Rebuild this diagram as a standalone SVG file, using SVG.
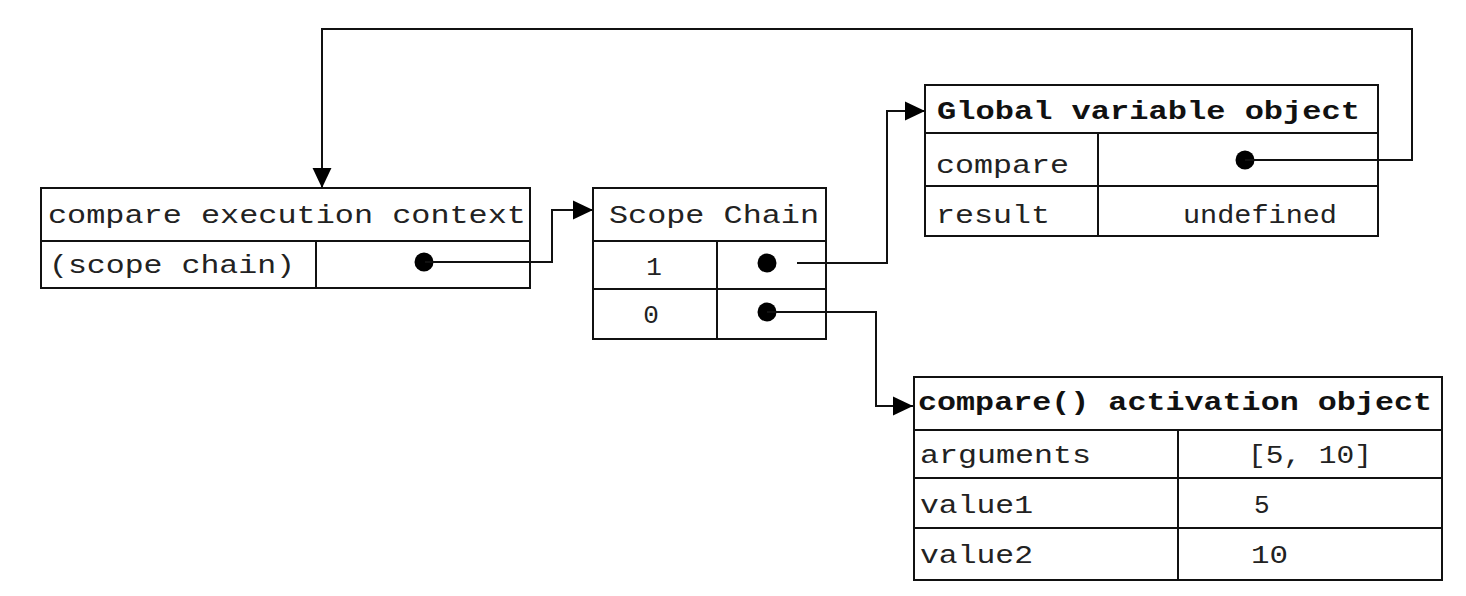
<svg xmlns="http://www.w3.org/2000/svg" width="1466" height="596" viewBox="0 0 1466 596">
<style>
.box{fill:none;stroke:#111;stroke-width:2}
.ln{fill:none;stroke:#111;stroke-width:2}
.t{font-family:"Liberation Mono","Courier New",monospace;font-size:26px;fill:#222}
.b{font-weight:bold;fill:#111}
.dot{fill:#000}
.conn{fill:none;stroke:#111;stroke-width:2}
</style>
<defs>
<marker id="arr" markerUnits="userSpaceOnUse" markerWidth="20" markerHeight="20" viewBox="0 0 18 18" refX="18" refY="9" orient="auto">
<path d="M0,0.5 L18,9 L0,17.5 Z" fill="#000"/>
</marker>
</defs>
<rect width="1466" height="596" fill="#fff"/>

<g id="exec-context">
<rect class="box" x="41" y="188" width="489" height="100"/>
<path class="ln" d="M41,241 H530 M316,241 V288"/>
<text class="t" x="48" y="223" textLength="478" lengthAdjust="spacingAndGlyphs">compare execution context</text>
<text class="t" x="49" y="273" textLength="246" lengthAdjust="spacingAndGlyphs">(scope chain)</text>
<circle class="dot" cx="424" cy="262" r="9.5"/>
</g>

<g id="scope-chain">
<rect class="box" x="593" y="188" width="233" height="151"/>
<path class="ln" d="M593,241 H826 M593,289 H826 M717,241 V339"/>
<text class="t" x="609" y="223" textLength="210" lengthAdjust="spacingAndGlyphs">Scope Chain</text>
<text class="t" x="654" y="275" text-anchor="middle">1</text>
<text class="t" x="651" y="323" text-anchor="middle">0</text>
<circle class="dot" cx="767" cy="263" r="9.5"/>
<circle class="dot" cx="767" cy="312" r="9.5"/>
</g>

<g id="global-object">
<rect class="box" x="925" y="85" width="453" height="151"/>
<path class="ln" d="M925,133 H1378 M925,186 H1378 M1098,133 V236"/>
<text class="t b" x="937" y="119" textLength="423" lengthAdjust="spacingAndGlyphs">Global variable object</text>
<text class="t" x="936" y="173" textLength="133" lengthAdjust="spacingAndGlyphs">compare</text>
<text class="t" x="936" y="223" textLength="114" lengthAdjust="spacingAndGlyphs">result</text>
<text class="t" x="1183" y="223" textLength="154" lengthAdjust="spacingAndGlyphs">undefined</text>
<circle class="dot" cx="1245" cy="160" r="9.5"/>
</g>

<g id="activation-object">
<rect class="box" x="914" y="377" width="528" height="203"/>
<path class="ln" d="M914,430 H1442 M914,478 H1442 M914,528 H1442 M1178,430 V580"/>
<text class="t b" x="918" y="410" textLength="514" lengthAdjust="spacingAndGlyphs">compare() activation object</text>
<text class="t" x="920" y="463" textLength="171" lengthAdjust="spacingAndGlyphs">arguments</text>
<text class="t" x="920" y="513" textLength="113" lengthAdjust="spacingAndGlyphs">value1</text>
<text class="t" x="920" y="563" textLength="113" lengthAdjust="spacingAndGlyphs">value2</text>
<text class="t" x="1248" y="463" textLength="124" lengthAdjust="spacingAndGlyphs">[5, 10]</text>
<text class="t" x="1254" y="513">5</text>
<text class="t" x="1251" y="563" textLength="37" lengthAdjust="spacingAndGlyphs">10</text>
</g>

<g id="connectors">
<path class="conn" d="M425,262 H552 V210 H593" marker-end="url(#arr)"/>
<path class="conn" d="M797,263 H887 V111 H925" marker-end="url(#arr)"/>
<path class="conn" d="M767,312 H876 V406 H913" marker-end="url(#arr)"/>
<path class="conn" d="M1245,160 H1412 V29 H322 V188" marker-end="url(#arr)"/>
</g>
</svg>
